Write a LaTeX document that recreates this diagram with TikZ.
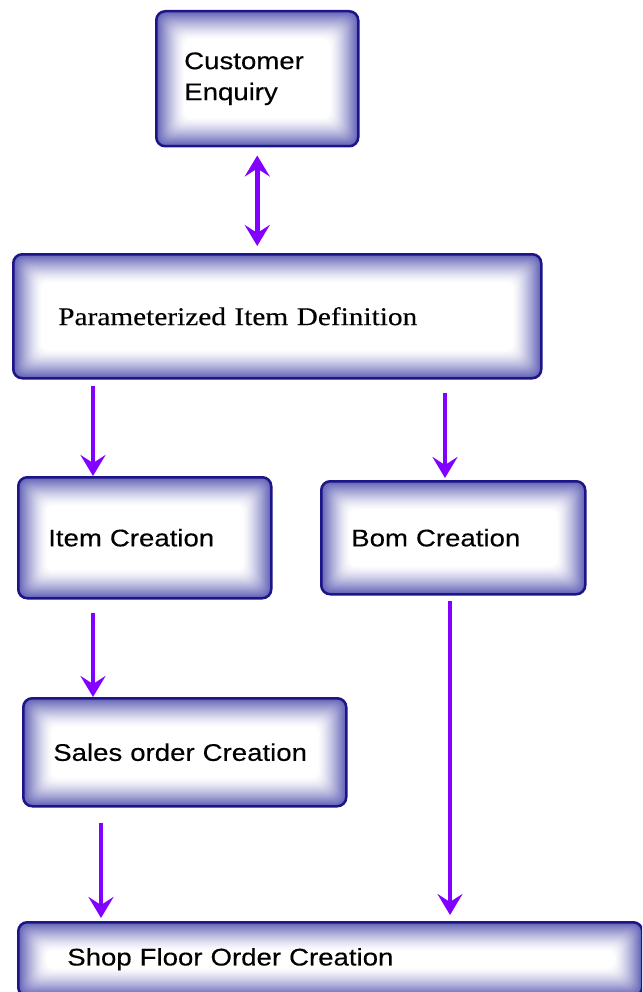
\documentclass[tikz,border=0pt]{standalone}
\usepackage{fontspec}
\setmainfont{Liberation Sans}[FakeStretch=1.15,FakeBold=0.3]
\newfontfamily\bookfont{Liberation Serif}[FakeStretch=1.15,FakeBold=0.3]
\usetikzlibrary{arrows.meta,calc}
\definecolor{edgec}{RGB}{28,20,135}
\definecolor{shadec}{RGB}{80,80,175}
\definecolor{arrc}{RGB}{130,0,255}
\tikzset{
  flowbox/.style={draw=edgec, line width=2.5pt, rounded corners=9pt, anchor=north west,
    align=left, text=black, font=\fontsize{24}{31}\selectfont,
    path picture={
      \foreach \i in {0,...,28}{
        \pgfmathsetmacro\p{90*(1-\i/28)^1.35}
        \fill[shadec!\p!white, rounded corners=8pt]
          ([shift={(\i pt,-\i pt)}]path picture bounding box.north west) rectangle
          ([shift={(-\i pt,\i pt)}]path picture bounding box.south east);
      }
    }},
  flowarrow/.style={draw=arrc, line width=4.5pt, -{Stealth[length=21pt,width=25pt,inset=8pt]}},
  biarrow/.style={draw=arrc, line width=4.5pt, {Stealth[length=21pt,width=25pt,inset=8pt]}-{Stealth[length=21pt,width=25pt,inset=8pt]}}
}
\begin{document}
\begin{tikzpicture}[x=1pt,y=-1pt]
\useasboundingbox (0,0) rectangle (642,992);
\clip (0,0) rectangle (642,992);
\fill[white] (0,0) rectangle (642,992);

\node[flowbox, minimum width=202pt, minimum height=135pt, inner xsep=28pt, text width=146pt] (cust) at (155,10) {Customer\\Enquiry};
\node[flowbox, minimum width=528pt, minimum height=124pt, inner xsep=45pt, text width=438pt, font=\bookfont\fontsize{25.5}{30}\selectfont] (param) at (12,253) {Parameterized Item Definition};
\node[flowbox, minimum width=253pt, minimum height=121pt, inner xsep=30pt, text width=193pt] (item) at (17,476) {Item Creation};
\node[flowbox, minimum width=264pt, minimum height=113pt, inner xsep=30pt, text width=204pt] (bom) at (320,480) {Bom Creation};
\node[flowbox, minimum width=323pt, minimum height=108pt, inner xsep=30pt, text width=263pt] (sales) at (22,697) {Sales order Creation};
\node[flowbox, minimum width=624pt, minimum height=74pt, inner xsep=49pt, text width=526pt] (shop) at (17,921) {Shop Floor Order Creation};

\coordinate (c2) at ([xshift=76pt]item.north west);
\coordinate (c3) at ([xshift=125pt]bom.north west);
\coordinate (c5) at ([xshift=130pt]bom.south west);
\coordinate (c6) at ([xshift=79pt]sales.south west);

\draw[biarrow, shorten <=8pt, shorten >=7pt] (cust.south) -- (cust.south |- param.north);
\draw[flowarrow, shorten <=6pt] (c2 |- param.south) -- (c2);
\draw[flowarrow, shorten <=13pt, shorten >=2pt] (c3 |- param.south) -- (c3);
\draw[flowarrow, shorten <=13pt] (c2 |- item.south) -- (c2 |- sales.north);
\draw[flowarrow, shorten <=5pt, shorten >=6pt] (c5) -- (c5 |- shop.north);
\draw[flowarrow, shorten <=15pt, shorten >=3pt] (c6) -- (c6 |- shop.north);
\end{tikzpicture}
\end{document}
